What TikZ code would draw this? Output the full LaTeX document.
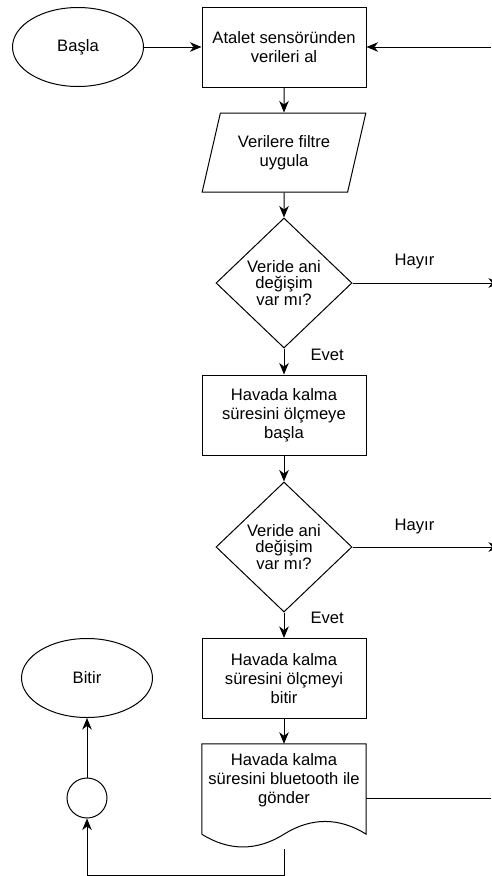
\documentclass[tikz,border=0pt]{standalone}
\usepackage{fontspec}
\usepackage{tikz}
\usetikzlibrary{shapes.geometric,arrows.meta,positioning}
\setmainfont{Liberation Sans}
\newcommand{\flowfont}{\fontsize{16.6pt}{19pt}\selectfont}
\newcommand{\diafont}{\fontsize{16.6pt}{16.5pt}\selectfont}

\begin{document}
\begin{tikzpicture}[x=1pt, y=-1pt,
    terminal/.style={ellipse, draw, line width=1pt, minimum width=131pt,
                     minimum height=79pt, font=\flowfont},
    process/.style={rectangle, draw, line width=1pt, minimum width=164pt,
                    minimum height=80pt, align=center, font=\flowfont},
    inout/.style={trapezium, trapezium left angle=71, trapezium right angle=109,
                  trapezium stretches=true, draw, line width=1pt, minimum width=164pt,
                  minimum height=79pt, align=center, font=\flowfont},
    decision/.style={diamond, draw, line width=1pt, minimum width=136pt,
                     minimum height=130pt, inner sep=0pt, align=center, font=\diafont},
    docshape/.style={rectangle, minimum width=164pt, minimum height=105pt, inner sep=0pt},
    joint/.style={circle, draw, line width=1pt, minimum size=40pt, inner sep=0pt},
    flow/.style={-{Stealth[length=11.5pt, width=9.5pt, inset=3.5pt]}, line width=1pt},
    answer/.style={font=\flowfont, inner sep=0pt}
]
    \useasboundingbox (0,0) rectangle (491,876);

    % Start and first steps
    \node[terminal] (start) at (78,47) {Başla};
    \node[process] (read) at (284,47) {Atalet sensöründen\\verileri al};
    \node[inout] (filter) at (284,152.5) {Verilere filtre\\uygula};

    % First check
    \node[decision] (check1) at (284,283) {Veride ani\\değişim\\var mı?};
    \node[process] (startclock) at (284,415) {Havada kalma\\süresini ölçmeye\\başla};

    % Second check
    \node[decision] (check2) at (284,547) {Veride ani\\değişim\\var mı?};
    \node[process] (stopclock) at (284,678.5) {Havada kalma\\süresini ölçmeyi\\bitir};

    % Send over bluetooth
    \node[docshape] (send) at (284,796.5) {};
    \node[font=\flowfont, align=center] (sendtext) at (284,780) {Havada kalma\\süresini bluetooth ile\\gönder};
    \draw[line width=1pt] ([yshift=15pt]send.south west) -- (send.north west) -- (send.north east)
        -- ([yshift=15pt]send.south east)
        .. controls +(-27pt,17pt) and +(27pt,17pt) .. ([yshift=15pt]send.south)
        .. controls +(-27pt,-17pt) and +(27pt,-17pt) .. ([yshift=15pt]send.south west);

    % End
    \node[joint] (merge) at (87,798) {};
    \node[terminal] (stop) at (87,678) {Bitir};

    % Loose ends at the right border
    \coordinate (back) at (491,47);
    \coordinate (no1) at (500,283);
    \coordinate (no2) at (500,547);
    \coordinate (sendout) at (491,798);
    \coordinate (loop) at (284,875);

    % Connections
    \draw[flow] (start) -- (read);
    \draw[flow] (back) -- (read);
    \draw[flow] (read) -- (filter);
    \draw[flow] (filter) -- (check1);
    \draw[flow] (check1) -- node[answer, pos=0.25, right=26pt] {Evet} (startclock);
    \draw[flow] (check1) -- node[answer, pos=0.42, above=14pt] {Hayır} (no1);
    \draw[flow] (startclock) -- (check2);
    \draw[flow] (check2) -- node[answer, pos=0.22, right=26pt] {Evet} (stopclock);
    \draw[flow] (check2) -- node[answer, pos=0.42, above=13pt] {Hayır} (no2);
    \draw[flow] (stopclock) -- (send);
    \draw[line width=1pt] (send.east |- sendout) -- (sendout);
    \draw[flow] (send.south) -- (loop) -| (merge);
    \draw[flow] (merge) -- (stop);
\end{tikzpicture}
\end{document}
